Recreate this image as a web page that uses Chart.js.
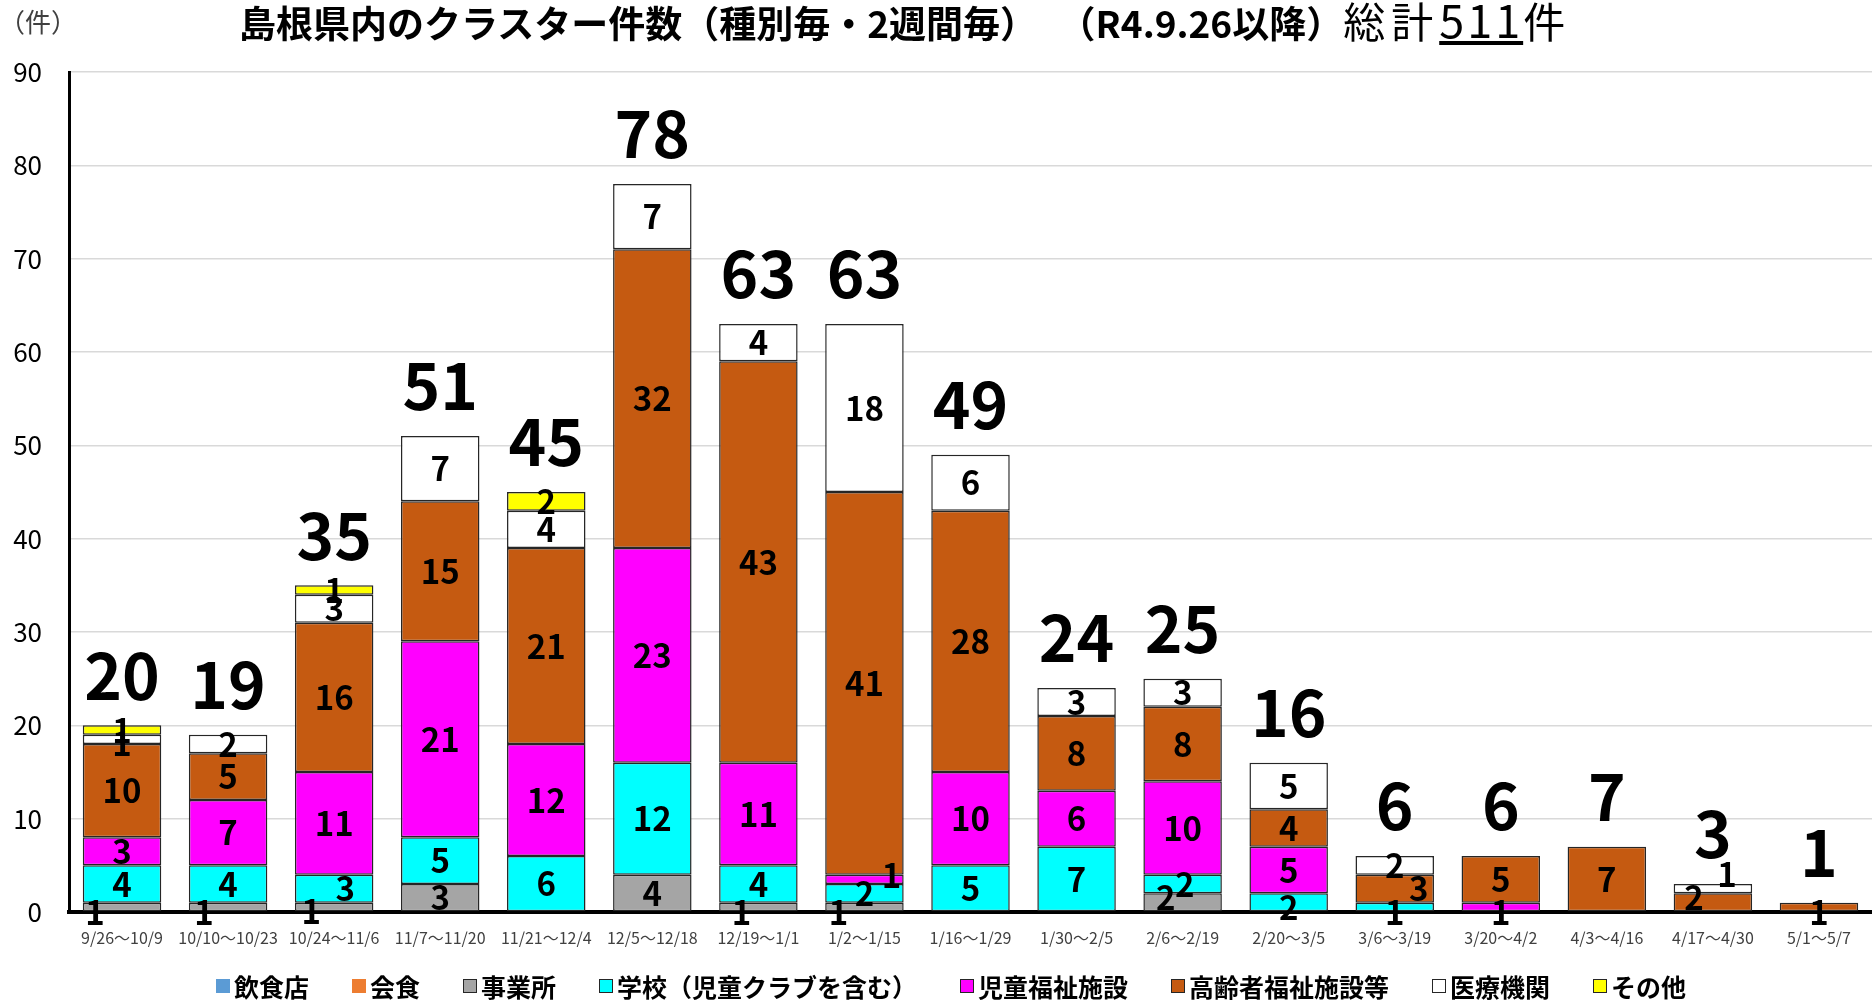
<!DOCTYPE html>
<html lang="ja">
<head>
<meta charset="utf-8">
<title>島根県内のクラスター件数</title>
<script src="https://cdn.jsdelivr.net/npm/chart.js@4.4.1/dist/chart.umd.min.js"></script>
<style>
  body { margin: 0; background: #fff; font-family: 'Noto Sans CJK JP', sans-serif; }
  #wrap { position: relative; width: 1872px; height: 1001px; overflow: hidden; }
  #chart { position: absolute; left: 0; top: 0; }
  #title { position: absolute; left: 239px; top: -3px; font-size: 37px; line-height: 44px; white-space: nowrap; color: #000; }
  #title b { font-weight: 700; }
  #title .gap { margin-left: 40px; }
  #title .sum { font-weight: 400; font-size: 42px; letter-spacing: 6px; }
  #title u { font-size: 45px; letter-spacing: 3px; text-decoration-thickness: 4px; text-underline-offset: 3px; }
  #unit { position: absolute; left: -1px; top: 8px; font-size: 26px; line-height: 26px; color: #404040; }
  #legend { position: absolute; left: 216px; top: 970px; display: flex; gap: 43px; font-size: 25px; font-weight: 700; line-height: 32px; }
  #legend span.item { display: flex; align-items: center; }
  #legend i { display: inline-block; width: 14px; height: 14px; margin-right: 4px; box-sizing: border-box; }
</style>
</head>
<body>
<div id="wrap">
  <canvas id="chart" width="1872" height="1001"></canvas>
  <div id="unit">（件）</div>
  <div id="title"><b>島根県内のクラスター件数（種別毎・2週間毎）</b><b class="gap">（R4.9.26以降）</b><span class="sum">総計<u>511</u>件</span></div>
  <div id="legend"></div>
</div>
<script>
// two-week periods
const categories = ['9/26～10/9', '10/10～10/23', '10/24～11/6', '11/7～11/20', '11/21～12/4', '12/5～12/18',
    '12/19～1/1', '1/2～1/15', '1/16～1/29', '1/30～2/5', '2/6～2/19', '2/20～3/5', '3/6～3/19',
    '3/20～4/2', '4/3～4/16', '4/17～4/30', '5/1～5/7'];

// cluster counts per type (bottom to top of the stack)
const restaurant = [0, 0, 0, 0, 0, 0, 0, 0, 0, 0, 0, 0, 0, 0, 0, 0, 0];
const dining     = [0, 0, 0, 0, 0, 0, 0, 0, 0, 0, 0, 0, 0, 0, 0, 0, 0];
const office     = [1, 1, 1, 3, 0, 4, 1, 1, 0, 0, 2, 0, 0, 0, 0, 0, 0];
const school     = [4, 4, 3, 5, 6, 12, 4, 2, 5, 7, 2, 2, 1, 0, 0, 0, 0];
const childCare  = [3, 7, 11, 21, 12, 23, 11, 1, 10, 6, 10, 5, 0, 1, 0, 0, 0];
const elderCare  = [10, 5, 16, 15, 21, 32, 43, 41, 28, 8, 8, 4, 3, 5, 7, 2, 1];
const medical    = [1, 2, 3, 7, 4, 7, 4, 18, 6, 3, 3, 5, 2, 0, 0, 1, 0];
const other      = [1, 0, 1, 0, 2, 0, 0, 0, 0, 0, 0, 0, 0, 0, 0, 0, 0];

const yTicks = [0, 10, 20, 30, 40, 50, 60, 70, 80, 90];

const seriesNames = ['飲食店', '会食', '事業所', '学校（児童クラブを含む）', '児童福祉施設', '高齢者福祉施設等', '医療機関', 'その他'];
const seriesData = [restaurant, dining, office, school, childCare, elderCare, medical, other];
const seriesColors = ['#5B9BD5', '#ED7D31', '#A5A5A5', '#00FFFF', '#FF00FF', '#C55A11', '#FFFFFF', '#FFFF00'];

const totals = categories.map((c, i) => seriesData.reduce((s, arr) => s + arr[i], 0));

const FONT = "'Noto Sans CJK JP', sans-serif";

// hand-moved labels in the original (series index, bar index) -> [dx, dy] px
const labelNudge = {
    '2,0': [-27, 5], '2,1': [-24, 5], '2,2': [-23, 4], '2,6': [-17, 5], '2,7': [-26, 5],
    '3,2': [11, 0], '4,7': [27, -4], '2,10': [-17, -5], '3,10': [2, 0], '3,11': [0, 5],
    '3,12': [0, 5], '5,12': [24, 0], '4,13': [0, 5], '5,15': [-19, -5], '6,15': [14, -14],
    '5,16': [0, 5], '6,0': [0, 4]
};

// draws segment values and totals
const labelPlugin = {
    id: 'barLabels',
    afterDatasetsDraw(chart) {
        const ctx = chart.ctx;
        ctx.save();
        ctx.fillStyle = '#000';
        ctx.textAlign = 'center';
        ctx.textBaseline = 'middle';
        ctx.font = 'bold 33px ' + FONT;
        chart.data.datasets.forEach((ds, i) => {
            const meta = chart.getDatasetMeta(i);
            meta.data.forEach((bar, j) => {
                const v = ds.data[j];
                if (!v) return;
                const [dx, dy] = labelNudge[i + ',' + j] || [0, 0];
                ctx.fillText(v, bar.x + dx, (bar.y + bar.base) / 2 + dy);
            });
        });
        // totals above each stack
        const yScale = chart.scales.y;
        const xScale = chart.scales.x;
        ctx.font = 'bold 64px ' + FONT;
        totals.forEach((t, j) => {
            ctx.fillText(t, xScale.getPixelForValue(j), yScale.getPixelForValue(t) - 50);
        });
        ctx.restore();
    }
};

new Chart(document.getElementById('chart'), {
    type: 'bar',
    data: {
        labels: categories,
        datasets: seriesNames.map((name, i) => ({
            label: name,
            data: seriesData[i],
            backgroundColor: seriesColors[i],
            borderColor: '#262626',
            borderWidth: c => (c.raw ? 1.5 : 0),
            borderSkipped: false,
            barPercentage: 0.74,
            categoryPercentage: 1
        }))
    },
    options: {
        responsive: false,
        animation: false,
        layout: { padding: { top: 72, left: 0, right: 0, bottom: 0 } },
        plugins: {
            legend: { display: false },
            tooltip: { enabled: false }
        },
        scales: {
            x: {
                stacked: true,
                grid: { display: false, drawTicks: false },
                border: { display: true, color: '#000', width: 4 },
                ticks: {
                    color: '#404040',
                    font: { family: FONT, size: 16 },
                    padding: 16,
                    autoSkip: false,
                    maxRotation: 0
                },
                afterFit(scale) { scale.height = 89; }
            },
            y: {
                stacked: true,
                min: 0,
                max: 90,
                afterBuildTicks(scale) { scale.ticks = yTicks.map(v => ({ value: v })); },
                grid: { color: '#d9d9d9', lineWidth: 1.5, drawTicks: false },
                border: { display: true, color: '#000', width: 3 },
                ticks: {
                    color: '#000',
                    font: { family: FONT, size: 26 },
                    padding: 27
                },
                afterFit(scale) { scale.width = 69; }
            }
        }
    },
    plugins: [labelPlugin]
});

// legend
const legend = document.getElementById('legend');
seriesNames.forEach((name, i) => {
    const item = document.createElement('span');
    item.className = 'item';
    const box = document.createElement('i');
    box.style.background = seriesColors[i];
    if (i >= 2) box.style.border = '1.5px solid #262626';
    item.appendChild(box);
    item.appendChild(document.createTextNode(name));
    legend.appendChild(item);
});
</script>
</body>
</html>
